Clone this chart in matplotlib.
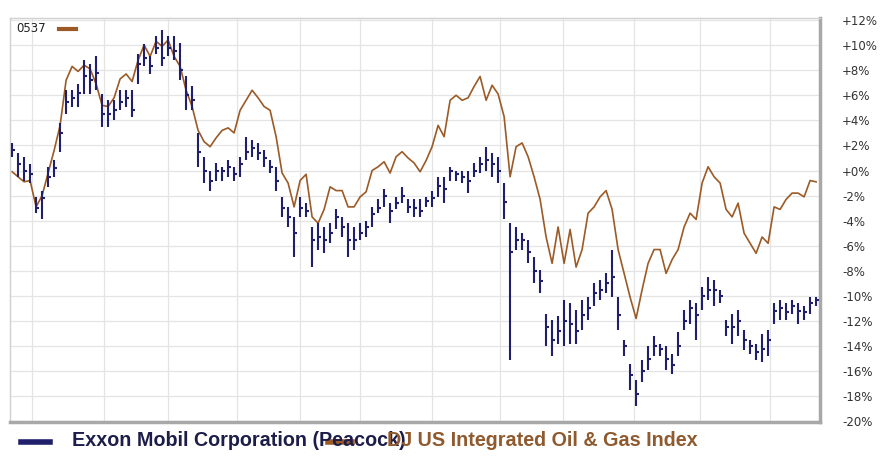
import numpy as np
import matplotlib.pyplot as plt
from matplotlib.lines import Line2D

# DJ US Integrated Oil & Gas Index, % change
index_pct = [
    -0.1, -0.5, -0.9, -0.8, -2.9, -2.0, -0.2, 1.6, 3.6, 7.2, 8.3, 7.9, 8.4, 8.1,
    6.9, 5.2, 5.1, 5.8, 7.3, 7.7, 7.1, 8.8, 10.0, 9.1, 10.3, 9.9, 10.4, 9.1,
    8.3, 6.4, 5.1, 3.2, 2.3, 1.9, 2.6, 3.2, 3.4, 3.0, 4.8, 5.6, 6.4, 5.8,
    5.1, 4.8, 2.7, -0.2, -1.0, -2.9, -0.8, -0.3, -3.7, -4.2, -3.1, -1.3, -1.6,
    -1.6, -2.9, -2.9, -2.1, -1.7, 0.0, 0.3, 0.7, -0.2, 1.1, 1.5, 1.0, 0.6,
    -0.1, 0.8, 1.9, 3.6, 2.7, 5.6, 6.0, 5.6, 5.8, 6.7, 7.5, 5.6, 6.8, 6.1,
    4.3, -0.5, 1.9, 2.2, 1.1, -0.5, -2.3, -5.3, -7.4, -4.5, -7.4, -4.7, -7.7,
    -6.3, -3.4, -2.9, -2.1, -1.6, -3.1, -6.3, -8.2, -10.1, -11.8, -9.5, -7.4,
    -6.3, -6.3,
    -8.2, -7.1, -6.3, -4.5, -3.4, -3.9, -1.0, 0.3, -0.5, -1.0, -3.1, -3.7,
    -2.6, -5.0, -5.8, -6.6, -5.3, -5.8, -2.9, -3.1, -2.3, -1.8, -1.8, -2.1,
    -0.8, -0.9,
]

# Exxon Mobil daily bars, % change
xom_high = [
    2.2, 1.4, 1.1, 0.5, -2.1, -1.6, 0.3, 0.8, 3.8, 6.4, 6.4, 6.9, 8.8, 8.5,
    9.1, 6.1, 5.6, 5.6, 6.4, 6.4, 6.4, 9.3, 10.1, 9.1, 10.7, 11.2, 10.7, 10.7,
    10.2, 7.5, 6.7, 3.0, 1.1, 0.0, 0.6, 0.3, 0.8, 0.3, 1.1, 2.7, 2.4, 2.2,
    1.6, 0.8, 0.3, -2.1, -2.9, -3.7, -2.1, -2.6, -4.5, -4.2, -4.5, -4.2, -3.1,
    -3.7, -4.2, -4.5, -4.2, -4.0, -2.9, -2.3, -1.5, -2.6, -2.1, -1.3, -2.3, -2.3,
    -2.3, -2.1, -1.6, -0.5, -0.5, 0.3, 0.0, 0.0, 0.0, 0.6, 1.1, 1.9, 1.4, 1.1,
    -1.0, -4.2, -4.5, -5.0, -5.5, -6.9, -7.9, -11.4, -11.9, -11.6, -10.3, -10.6, -11.1,
    -10.3, -10.1, -9.0, -8.7, -8.2, -6.3, -10.1, -13.5, -15.4, -16.7, -15.1, -14.0,
    -13.2, -13.8,
    -14.0, -14.6, -12.9, -11.1, -10.3, -10.6, -9.3, -8.5, -8.7, -9.5, -11.9, -11.4,
    -11.1, -12.7, -13.5, -13.8, -13.0, -12.7, -10.6, -10.3, -10.6, -10.3, -10.6, -10.8,
    -10.1, -10.1,
]
xom_low = [
    1.1, -0.5, -0.8, -1.0, -3.4, -3.9, -1.3, -0.5, 1.5, 4.5, 5.1, 5.1, 6.1, 6.1,
    6.4, 3.5, 3.5, 4.0, 4.8, 5.1, 4.3, 6.9, 8.3, 7.7, 9.3, 8.3, 9.1, 8.8,
    7.2, 4.8, 4.8, 0.3, -1.0, -1.6, -0.8, -0.8, -0.5, -0.8, -0.5, 0.8, 1.1, 0.8,
    0.3, -0.2, -1.6, -3.7, -4.5, -6.9, -3.7, -3.7, -7.7, -6.3, -6.6, -5.8, -4.7,
    -5.3, -6.9, -6.3, -5.5, -5.3, -4.5, -3.4, -2.9, -4.2, -3.1, -2.6, -3.4, -3.7,
    -3.7, -2.9, -2.9, -2.1, -2.6, -0.8, -0.8, -1.0, -1.8, -0.5, -0.2, 0.0, -0.5, -1.0,
    -3.9, -15.1, -6.3, -6.3, -7.4, -9.0, -9.8, -14.0, -14.8, -13.8, -14.0, -13.8, -13.8,
    -12.7, -11.9, -10.8, -10.3, -9.8, -10.1, -12.7, -14.8, -17.5, -18.8, -16.9, -15.9,
    -14.8, -14.8,
    -15.9, -16.2, -14.8, -12.7, -12.2, -13.5, -11.1, -10.3, -10.8, -10.6, -13.2, -13.8,
    -13.2, -14.3, -14.6, -15.1, -15.3, -14.8, -12.2, -11.9, -11.9, -11.4, -12.2, -11.9,
    -11.4, -10.8,
]
xom_close = [
    1.6, 0.5, 0.0, -0.3, -3.0, -2.2, -0.5, 0.2, 3.0, 5.5, 5.8, 6.2, 7.5, 7.2,
    7.8, 4.5, 4.5, 4.8, 5.5, 5.8, 4.8, 8.5, 9.0, 8.3, 9.8, 9.0, 9.8, 9.5,
    8.0, 6.0, 5.6, 1.5, 0.0, -0.8, 0.0, 0.0, 0.3, -0.3, 0.5, 1.5, 1.8, 1.4,
    1.0, 0.3, -0.8, -3.0, -3.7, -5.0, -3.0, -3.2, -5.5, -5.3, -5.5, -5.0, -3.7,
    -4.5, -5.5, -5.5, -5.0, -4.5, -3.5, -3.0, -2.0, -3.2, -2.6, -2.0, -2.9, -3.0,
    -3.2, -2.4, -2.2, -1.2, -1.5, 0.0, -0.3, -0.5, -0.8, 0.0, 0.5, 0.8, 0.5, 0.0,
    -2.5, -6.5, -5.5, -5.5, -6.5, -8.0, -8.8, -12.5, -13.5, -12.8, -12.0, -12.2, -12.8,
    -11.5, -11.0, -9.8, -9.5, -9.0, -8.5, -11.5, -14.0, -16.3, -17.8, -16.0, -15.0,
    -14.0, -14.2,
    -15.0, -15.5, -14.0, -12.0, -11.0, -11.5, -10.0, -9.5, -9.5, -10.0, -12.5, -12.5,
    -12.0, -13.5, -14.0, -14.5, -14.2, -13.5, -11.2, -11.0, -11.3, -10.8, -11.2, -11.3,
    -10.6, -10.3,
]

# month boundaries (in sample units) used for the vertical grid
month_starts = [3.3, 15.3, 26, 37.5, 48, 58, 70, 81.3, 91.8, 103.7, 114.7, 126.3]
y_ticks = list(range(-20, 13, 2))
y_labels = [("+%d%%" % v) if v >= 0 else ("-%d%%" % -v) for v in y_ticks]

navy = "#1f1f6b"
brown = "#9b5a26"

fig = plt.figure(figsize=(8.82, 4.58), dpi=100)
ax = fig.add_axes([10 / 882, 1 - 422 / 458, 810 / 882, 404.5 / 458])

days = np.arange(len(index_pct))

# grid
for v in y_ticks:
    ax.axhline(v, color="#e4e4e4", lw=0.9, zorder=0)
for m in month_starts:
    ax.axvline(m, color="#e4e4e4", lw=0.9, zorder=0)

# index line
ax.plot(days, index_pct, color=brown, lw=1.2, zorder=2)

# HLC bars
ax.vlines(days, xom_low, xom_high, color=navy, lw=1.5, zorder=3)
ax.hlines(xom_close, days, days + 0.5, color=navy, lw=1.5, zorder=3)

ax.set_xlim(-0.35, len(index_pct) - 0.35)
ax.set_ylim(-20.05, 12.2)
ax.set_xticks([])
ax.yaxis.tick_right()
ax.set_yticks(y_ticks)
ax.set_yticklabels(y_labels, fontsize=8.5, color="#333333")
ax.tick_params(axis="y", length=0, pad=16)

for s in ["left", "top"]:
    ax.spines[s].set_color("#d0d0d0")
    ax.spines[s].set_linewidth(1)
for s in ["right", "bottom"]:
    ax.spines[s].set_color("#a8a8a8")
    ax.spines[s].set_linewidth(2.5)

# small legend in the corner
fig.text(16 / 882, 1 - 28 / 458, "0537", fontsize=8.5, color="#222222", va="center")
fig.add_artist(Line2D([59 / 882, 76 / 882], [1 - 29 / 458] * 2, color=brown, lw=3))

# bottom legend
lfont = dict(family="Liberation Sans", fontweight="bold", fontsize=14.2, va="center")
fig.add_artist(Line2D([21 / 882, 50 / 882], [1 - 442 / 458] * 2, color=navy, lw=4))
fig.text(72 / 882, 1 - 440 / 458, "Exxon Mobil Corporation (Peacock)", color="#1d1d4a", **lfont)
fig.add_artist(Line2D([328 / 882, 352 / 882], [1 - 442 / 458] * 2, color=brown, lw=4))
fig.text(387 / 882, 1 - 440 / 458, "DJ US Integrated Oil & Gas Index", color="#8f5a2e", **lfont)

fig.savefig("out.png", dpi=100)
